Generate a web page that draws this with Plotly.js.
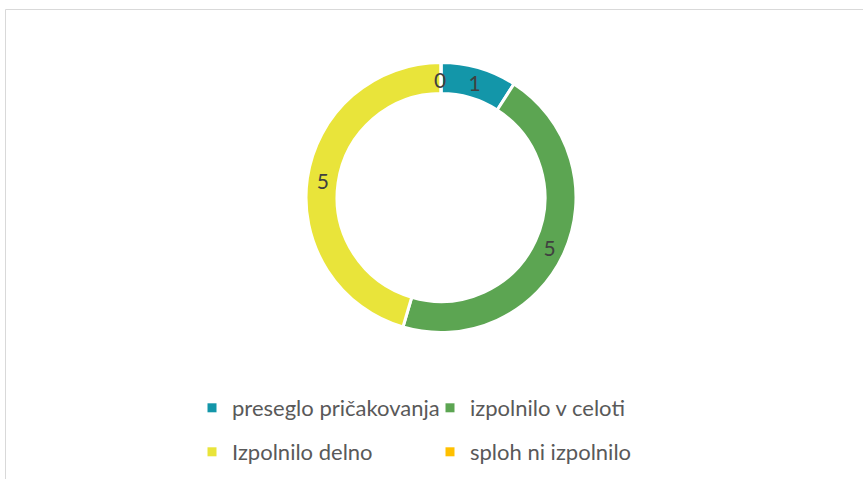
<!DOCTYPE html>
<html><head><meta charset="utf-8">
<script src="https://cdn.plot.ly/plotly-3.0.1.min.js"></script>
<style>html,body{margin:0;padding:0;background:#fff}#chart{width:863px;height:479px}</style>
</head><body><div id="chart"></div>
<script>
const categories = ['preseglo pričakovanja', 'izpolnilo v celoti', 'Izpolnilo delno', 'sploh ni izpolnilo'];
const values = [1, 5, 5, 0];
const colors = ['#1396A9', '#5CA552', '#E9E43A', '#FFC000'];

const W = 863, H = 479;
const cx = 441, cy = 197.5, R = 135;
const hole = 0.77;
const dom = {x: [(cx - R) / W, (cx + R) / W], y: [(H - cy - R) / H, (H - cy + R) / H]};
const labelFont = {family: 'Lato, "Open Sans", sans-serif', size: 21, color: '#404040'};

const pie = {
  type: 'pie', labels: categories, values: values, hole: hole, sort: false,
  direction: 'clockwise', rotation: 0, domain: dom,
  marker: {colors: colors, line: {color: '#ffffff', width: 3}},
  textinfo: 'value', textposition: 'inside', insidetextorientation: 'horizontal',
  textfont: labelFont, showlegend: false, hoverinfo: 'label+value'
};

// legend entries built from the categories (two rows of two)
const legendTraces = categories.map((c, i) => ({
  type: 'scatter', x: [null], y: [null], mode: 'markers', name: c,
  marker: {symbol: 'square', size: 9, color: colors[i]},
  legend: i < 2 ? 'legend' : 'legend2', hoverinfo: 'skip'
}));

// labels for zero-value slices (Plotly does not draw text for empty slices)
const total = values.reduce((a, b) => a + b, 0);
const annotations = [];
let cum = 0;
values.forEach((v, i) => {
  cum += v;
  if (v === 0) {
    const ang = (cum / total) * 2 * Math.PI;
    const rm = R * (1 + hole) / 2 - 1;
    const px = cx + rm * Math.sin(ang) - 1, py = cy - rm * Math.cos(ang);
    annotations.push({xref: 'paper', yref: 'paper', x: px / W, y: 1 - py / H,
      text: String(v), showarrow: false, font: labelFont, xanchor: 'center', yanchor: 'middle'});
  }
});

const legendBase = {
  orientation: 'h', x: 192 / W, xanchor: 'left', yanchor: 'middle', entrywidth: 193,
  font: {family: 'Lato, "Open Sans", sans-serif', size: 22, color: '#595959'},
  bgcolor: 'rgba(0,0,0,0)', borderwidth: 0
};

const layout = {
  width: W, height: H, margin: {l: 0, r: 0, t: 0, b: 0},
  paper_bgcolor: '#ffffff', plot_bgcolor: '#ffffff',
  xaxis: {visible: false}, yaxis: {visible: false},
  legend: Object.assign({}, legendBase, {y: 1 - 408 / H}),
  legend2: Object.assign({}, legendBase, {y: 1 - 452 / H}),
  annotations: annotations,
  shapes: [{type: 'rect', xref: 'paper', yref: 'paper', x0: 5.5 / W, x1: 1.05, y0: -0.05, y1: 1 - 9.5 / H,
    line: {color: '#D9D9D9', width: 1}, fillcolor: 'rgba(0,0,0,0)', layer: 'below'}]
};

Plotly.newPlot('chart', [pie].concat(legendTraces), layout, {displayModeBar: false, staticPlot: true});
</script>
</body></html>
